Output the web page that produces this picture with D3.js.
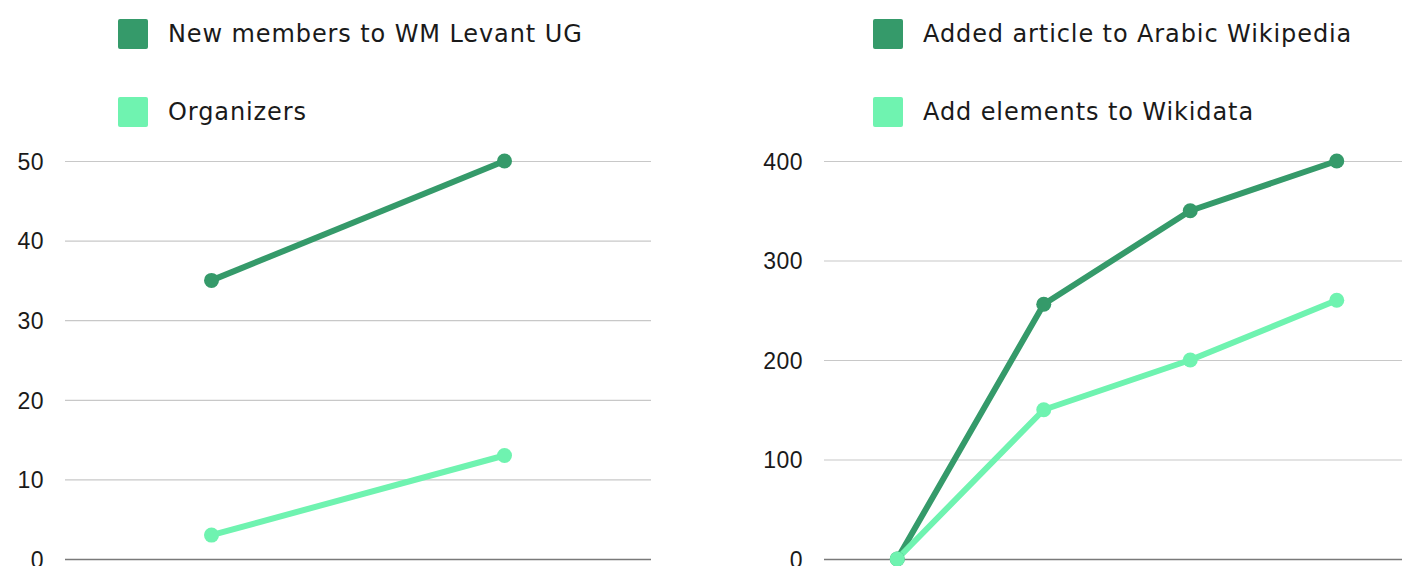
<!DOCTYPE html>
<html>
<head>
<meta charset="utf-8">
<script src="https://cdn.jsdelivr.net/npm/d3@7"></script>
<style>
  html, body { margin: 0; padding: 0; background: #fff; }
  svg { display: block; font-family: "DejaVu Sans", sans-serif; }
</style>
</head>
<body>
<svg id="chart" width="1402" height="566"></svg>
<script>
// ---- Data ----
const leftCategories = ["A", "B"];
const leftSeriesNames = ["New members to WM Levant UG", "Organizers"];
const leftNewMembers = [35, 50];
const leftOrganizers = [3, 13];
const leftTicks = [0, 10, 20, 30, 40, 50];

const rightCategories = ["A", "B", "C", "D"];
const rightSeriesNames = ["Added article to Arabic Wikipedia", "Add elements to Wikidata"];
const rightArticles = [0, 256, 350, 400];
const rightWikidata = [0, 150, 200, 260];
const rightTicks = [0, 100, 200, 300, 400];

const colors = ["#359a6a", "#6ff3b0"];

const svg = d3.select("#chart");

function panel(cfg) {
  const g = svg.append("g");
  const x = d3.scalePoint().domain(cfg.categories).range([cfg.x0, cfg.x1]).padding(0.5);
  const y = d3.scaleLinear().domain([0, cfg.max]).range([559, 161]);

  const axis = d3.axisLeft(y).tickValues(cfg.ticks).tickSize(-(cfg.x1 - cfg.x0)).tickPadding(21);
  const ag = g.append("g").attr("transform", `translate(${cfg.x0},0)`).call(axis);
  ag.select(".domain").remove();
  ag.selectAll(".tick line").attr("stroke", d => d === 0 ? "#7a7a7a" : "#c8c8c8").attr("stroke-width", d => d === 0 ? 1.5 : 1.2);
  ag.selectAll(".tick text").attr("fill", "#1a1a1a").style("font-size", "23px")
    .style("letter-spacing", "0.5px").attr("dy", "0.36em");

  cfg.series.forEach((vals, i) => {
    const line = d3.line().x((d, j) => x(cfg.categories[j])).y(d => y(d));
    g.append("path").datum(vals).attr("d", line)
      .attr("fill", "none").attr("stroke", colors[i]).attr("stroke-width", 6)
      .attr("stroke-linejoin", "round");
  });
  cfg.series.forEach((vals, i) => {
    g.selectAll(null).data(vals).enter().append("circle")
      .attr("cx", (d, j) => x(cfg.categories[j])).attr("cy", d => y(d))
      .attr("r", 7.5).attr("fill", colors[i]);
  });

  cfg.names.forEach((n, i) => {
    const ly = 19 + i * 78;
    g.append("rect").attr("x", cfg.legendX).attr("y", ly).attr("width", 30).attr("height", 30)
      .attr("rx", 2).attr("fill", colors[i]);
    g.append("text").attr("x", cfg.legendX + 50).attr("y", ly + 15).attr("dy", "0.35em")
      .style("font-size", "24px").style("letter-spacing", "0.9px").attr("fill", "#1a1a1a").text(n);
  });
}

panel({ categories: leftCategories, series: [leftNewMembers, leftOrganizers], names: leftSeriesNames,
        ticks: leftTicks, max: 50, x0: 65, x1: 651, legendX: 118 });
panel({ categories: rightCategories, series: [rightArticles, rightWikidata], names: rightSeriesNames,
        ticks: rightTicks, max: 400, x0: 824, x1: 1410, legendX: 873 });
</script>
</body>
</html>
